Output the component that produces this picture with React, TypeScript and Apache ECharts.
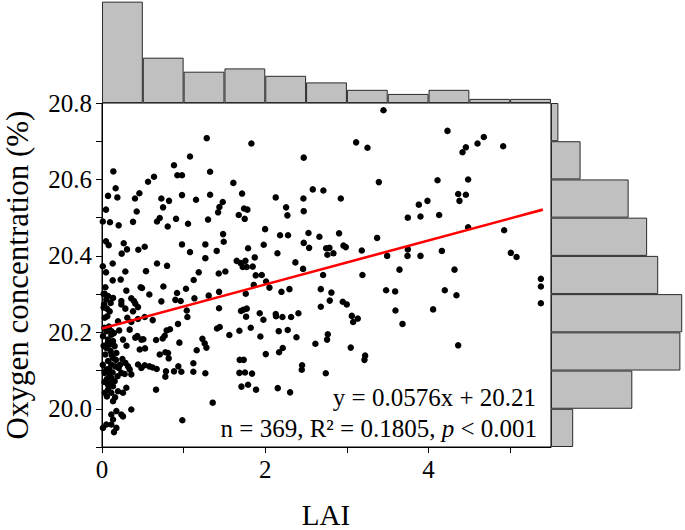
import React, { useEffect, useRef } from "react";
import * as echarts from "echarts";

const laiValues = [
  3.448, 4.232, 1.283, 1.830, 4.677, 4.600, 3.113, 3.252, 4.914, 4.457,
  4.416, 2.471, 1.078, 0.882, 0.139, 1.324, 0.923, 0.980, 0.637, 0.564,
  3.391, 1.609, 4.110, 4.485, 0.167, 2.582, 2.712, 0.458, 0.404, 0.074,
  0.188, 0.980, 1.324, 1.152, 1.716, 2.128, 2.467, 2.925, 0.727, 0.821,
  4.363, 4.457, 4.379, 3.987, 3.881, 1.479, 1.438, 1.422, 2.255, 2.271,
  2.471, 1.740, 1.781, 1.675, 1.748, 0.049, 0.425, 0.748, 4.130, 3.746,
  3.901, 0.204, 0.098, 0.010, 0.380, 0.674, 0.707, 0.907, 0.805, 1.054,
  1.299, 4.485, 4.926, 1.998, 1.483, 1.491, 2.181, 2.279, 2.529, 2.663,
  2.904, 3.370, 0.049, 0.082, 0.266, 0.306, 0.241, 0.445, 0.523, 0.980,
  1.078, 1.266, 1.405, 1.789, 1.981, 2.471, 2.537, 2.745, 2.786, 2.761,
  2.835, 2.958, 2.986, 3.182, 3.746, 3.742, 4.163, 5.008, 5.078, 3.493,
  3.901, 1.266, 1.871, 1.757, 2.149, 0.131, 0.674, 0.797, 1.650, 1.699,
  1.773, 1.846, 1.724, 2.369, 0.010, 0.049, 0.286, 0.539, 1.185, 1.123,
  1.430, 1.511, 1.883, 1.957, 1.859, 2.010, 2.463, 2.708, 3.644, 4.318,
  3.190, 0.490, 0.752, 0.919, 1.029, 0.580, 1.434, 1.307, 1.132, 1.761,
  2.051, 2.198, 2.296, 2.680, 2.810, 3.480, 3.591, 4.199, 4.342, 5.376,
  5.376, 5.376, 0.727, 0.899, 0.964, 1.038, 1.046, 1.434, 1.732, 1.703,
  1.773, 1.765, 1.932, 1.977, 2.128, 2.132, 2.210, 2.316, 2.406, 2.680,
  2.790, 2.949, 2.998, 3.060, 3.133, 3.076, 3.595, 4.056, 3.681, 0.523,
  0.621, 0.833, 0.792, 0.931, 1.409, 1.442, 0.507, 0.662, 0.743, 0.768,
  0.948, 1.160, 1.230, 1.258, 1.279, 1.560, 1.683, 1.822, 1.940, 2.165,
  2.275, 2.382, 2.614, 2.766, 2.757, 3.047, 2.006, 2.169, 2.214, 3.223,
  3.215, 4.363, 0.527, 0.707, 0.776, 0.809, 0.817, 0.523, 0.580, 0.621,
  0.670, 0.784, 0.776, 0.882, 0.935, 0.972, 1.119, 1.119, 1.266, 1.687,
  1.736, 1.683, 1.752, 1.838, 2.451, 2.447, 2.741, 0.662, 1.708, 1.789,
  1.887, 2.153, 2.304, 1.356, 0.984,
  0.131, 0.229, 0.041, 0.474, 0.298, 0.033, 0.074, 0.053, 0.135, 0.106,
  0.025, 0.237, 0.237, 0.359, 0.392, 0.408, 0.441, 0.380, 0.286, 0.094,
  0.065, 0.033, 0.310, 0.196, 0.359, 0.339, 0.114, 0.053, 0.012, 0.074,
  0.114, 0.135, 0.094, 0.053, 0.155, 0.106, 0.041, 0.176, 0.257, 0.408,
  0.433, 0.482, 0.462, 0.135, 0.074, 0.114, 0.163, 0.204, 0.286, 0.319,
  0.339, 0.359, 0.278, 0.237, 0.441, 0.482, 0.053, 0.033, 0.094, 0.114,
  0.155, 0.074, 0.135, 0.074, 0.033, 0.114, 0.196, 0.257, 0.298, 0.135,
  0.176, 0.114, 0.237, 0.257, 0.359, 0.135, 0.114, 0.053, 0.012, 0.176,
  0.147,
  0.020, 0.060, 0.085, 0.030, 0.145, 0.070, 0.020, 0.120, 0.170, 0.090,
  0.010, 0.130, 0.060, 0.100, 0.030, 0.190, 0.220, 0.060, 0.160, 0.250,
  0.300, 0.210, 0.440, 0.020,
];
const oxygenValues = [
  20.781, 20.727, 20.708, 20.694, 20.711, 20.694, 20.697, 20.683, 20.687, 20.684,
  20.671, 20.657, 20.660, 20.637, 20.621, 20.620, 20.611, 20.611, 20.607, 20.594,
  20.593, 20.591, 20.598, 20.600, 20.577, 20.574, 20.571, 20.564, 20.550, 20.557,
  20.553, 20.559, 20.560, 20.547, 20.563, 20.553, 20.550, 20.550, 20.550, 20.544,
  20.562, 20.560, 20.544, 20.544, 20.534, 20.541, 20.528, 20.514, 20.527, 20.506,
  20.517, 20.524, 20.521, 20.507, 20.497, 20.521, 20.516, 20.527, 20.507, 20.500,
  20.503, 20.480, 20.488, 20.490, 20.489, 20.490, 20.499, 20.497, 20.477, 20.484,
  20.495, 20.475, 20.467, 20.470, 20.457, 20.437, 20.454, 20.454, 20.460, 20.450,
  20.459, 20.447, 20.438, 20.428, 20.433, 20.417, 20.406, 20.416, 20.424, 20.430,
  20.410, 20.430, 20.413, 20.420, 20.429, 20.434, 20.421, 20.420, 20.421, 20.403,
  20.407, 20.427, 20.423, 20.414, 20.417, 20.400, 20.413, 20.408, 20.397, 20.400,
  20.400, 20.394, 20.396, 20.387, 20.407, 20.380, 20.380, 20.374, 20.387, 20.381,
  20.371, 20.372, 20.371, 20.383, 20.373, 20.357, 20.359, 20.360, 20.357, 20.337,
  20.354, 20.359, 20.349, 20.350, 20.324, 20.333, 20.366, 20.350, 20.364, 20.364,
  20.350, 20.316, 20.320, 20.303, 20.314, 20.299, 20.306, 20.296, 20.289, 20.301,
  20.317, 20.306, 20.313, 20.313, 20.304, 20.310, 20.307, 20.310, 20.297, 20.340,
  20.320, 20.276, 20.281, 20.285, 20.282, 20.257, 20.240, 20.263, 20.259, 20.256,
  20.262, 20.241, 20.250, 20.233, 20.248, 20.242, 20.240, 20.240, 20.250, 20.267,
  20.283, 20.280, 20.273, 20.243, 20.236, 20.227, 20.257, 20.260, 20.222, 20.240,
  20.232, 20.208, 20.205, 20.222, 20.210, 20.214, 20.182, 20.180, 20.184, 20.191,
  20.173, 20.153, 20.183, 20.171, 20.160, 20.193, 20.204, 20.212, 20.189, 20.203,
  20.206, 20.187, 20.170, 20.195, 20.181, 20.160, 20.143, 20.148, 20.159, 20.139,
  20.128, 20.166, 20.158, 20.142, 20.148, 20.146, 20.132, 20.114, 20.111, 20.108,
  20.104, 20.098, 20.084, 20.098, 20.111, 20.097, 20.119, 20.097, 20.093, 20.128,
  20.128, 20.094, 20.095, 20.092, 20.114, 20.102, 20.093, 20.050, 20.058, 20.063,
  20.050, 20.054, 20.043, 20.016, 19.970,
  20.336, 20.338, 20.318, 20.318, 20.309, 20.301, 20.295, 20.286, 20.290, 20.277,
  20.273, 20.282, 20.273, 20.289, 20.282, 20.275, 20.266, 20.255, 20.262, 20.255,
  20.242, 20.238, 20.238, 20.229, 20.227, 20.207, 20.203, 20.203, 20.190, 20.181,
  20.194, 20.177, 20.168, 20.159, 20.164, 20.151, 20.142, 20.146, 20.181, 20.186,
  20.190, 20.181, 20.155, 20.133, 20.125, 20.116, 20.111, 20.107, 20.120, 20.111,
  20.103, 20.090, 20.091, 20.094, 20.116, 20.107, 20.103, 20.094, 20.090, 20.081,
  20.072, 20.063, 20.059, 20.050, 20.042, 20.042, 20.046, 20.042, 20.055, 20.020,
  19.994, 19.985, 19.985, 19.980, 19.998, 19.972, 19.959, 19.959, 19.950, 19.950,
  19.939,
  20.265, 20.262, 20.215, 20.212, 20.198, 20.172, 20.165, 20.140, 20.128, 20.105,
  20.115, 20.095, 20.078, 20.065, 20.070, 20.085, 20.115, 20.032, 20.030, 20.130,
  20.165, 20.205, 20.235, 20.300,
];

// Marginal histograms (counts per bin)
const topBinLabels = [
  "0–0.5", "0.5–1.0", "1.0–1.5", "1.5–2.0", "2.0–2.5", "2.5–3.0",
  "3.0–3.5", "3.5–4.0", "4.0–4.5", "4.5–5.0", "5.0–5.5",
];
const topBinCounts = [123, 55, 38, 42, 33, 25, 16, 11, 16, 5, 5];
const rightBinLabels = [
  "19.9–20.0", "20.0–20.1", "20.1–20.2", "20.2–20.3", "20.3–20.4",
  "20.4–20.5", "20.5–20.6", "20.6–20.7", "20.7–20.8",
];
const rightBinCounts = [12, 44, 70, 71, 58, 52, 42, 16, 4];

// Axis ticks and labels
const xTicks = [0, 1, 2, 3, 4, 5];
const xTickLabels = ["0", "2", "4"];
const yTicks = [19.9, 20.0, 20.1, 20.2, 20.3, 20.4, 20.5, 20.6, 20.7, 20.8];
const yTickLabels = ["20.0", "20.2", "20.4", "20.6", "20.8"];

// Linear fit
const fitSlope = 0.0576;
const fitIntercept = 20.21;
const fitRange = [0, 5.4];

const FONT = "Liberation Serif";

export default function App() {
  const ref = useRef<HTMLDivElement>(null);

  useEffect(() => {
    document.body.style.margin = "0";
    if (!ref.current) return;
    const chart = echarts.init(ref.current, null, { renderer: "svg" });

    const points = laiValues.map((x, i) => [x, oxygenValues[i]]);
    const fitLine = fitRange.map((x) => [x, fitIntercept + fitSlope * x]);

    const barStyle = {
      color: "#c0c0c0",
      borderColor: "#2a2a2a",
      borderWidth: 1,
    };

    chart.setOption({
      animation: false,
      backgroundColor: "#ffffff",
      textStyle: { fontFamily: FONT },
      grid: [
        {
          left: 102, top: 103, width: 449, height: 344,
          show: true, borderColor: "#000", borderWidth: 1,
          backgroundColor: "transparent",
        },
        { left: 102, top: 0, width: 449, height: 103 },
        { left: 551, top: 103, width: 134, height: 344 },
      ],
      xAxis: [
        {
          gridIndex: 0,
          type: "value",
          min: 0,
          max: 5.5,
          interval: 1,
          axisLine: { show: true, onZero: false, lineStyle: { color: "#000", width: 1 } },
          axisTick: {
            show: true, inside: false, length: 6,
            customValues: xTicks,
            lineStyle: { color: "#000", width: 1 },
          },
          axisLabel: {
            formatter: (v: number) => {
              const s = String(Math.round(v * 10) / 10);
              return xTickLabels.includes(s) ? s : "";
            },
            fontFamily: FONT, fontSize: 25, color: "#000", margin: 10,
            showMaxLabel: false,
          },
          splitLine: { show: false },
        },
        { gridIndex: 1, type: "category", data: topBinLabels, show: false },
        { gridIndex: 2, type: "value", min: 0, max: 72.5, show: false },
      ],
      yAxis: [
        {
          gridIndex: 0,
          type: "value",
          min: 19.9,
          max: 20.8,
          interval: 0.1,
          axisLine: { show: true, onZero: false, lineStyle: { color: "#000", width: 1 } },
          axisTick: {
            show: true, inside: false, length: 6,
            customValues: yTicks,
            lineStyle: { color: "#000", width: 1 },
          },
          axisLabel: {
            formatter: (v: number) => {
              const s = (Math.round(v * 10) / 10).toFixed(1);
              return yTickLabels.includes(s) ? s : "";
            },
            fontFamily: FONT, fontSize: 25, color: "#000", margin: 10,
          },
          splitLine: { show: false },
        },
        { gridIndex: 1, type: "value", min: 0, max: 125, show: false },
        { gridIndex: 2, type: "category", data: rightBinLabels, show: false },
      ],
      series: [
        {
          type: "bar",
          xAxisIndex: 1,
          yAxisIndex: 1,
          data: topBinCounts,
          barCategoryGap: "0%",
          itemStyle: barStyle,
          silent: true,
        },
        {
          type: "bar",
          xAxisIndex: 2,
          yAxisIndex: 2,
          data: rightBinCounts,
          barCategoryGap: "0%",
          itemStyle: barStyle,
          silent: true,
        },
        {
          type: "scatter",
          xAxisIndex: 0,
          yAxisIndex: 0,
          data: points,
          symbol: "circle",
          symbolSize: 6.5,
          itemStyle: { color: "#000", opacity: 1 },
          z: 3,
        },
        {
          type: "line",
          xAxisIndex: 0,
          yAxisIndex: 0,
          data: fitLine,
          symbol: "none",
          lineStyle: { color: "#ff0000", width: 2.6 },
          z: 4,
        },
      ],
      graphic: [
        {
          type: "text",
          x: 17,
          y: 275,
          rotation: Math.PI / 2,
          style: {
            text: "Oxygen concentration (%)",
            fontFamily: FONT,
            fontSize: 31,
            fill: "#000",
            align: "center",
            verticalAlign: "middle",
          },
        },
        {
          type: "text",
          x: 326,
          y: 515,
          style: {
            text: "LAI",
            fontFamily: FONT,
            fontSize: 29,
            fill: "#000",
            align: "center",
            verticalAlign: "middle",
          },
        },
        {
          type: "text",
          x: 536,
          y: 397,
          z: 10,
          style: {
            text: "y = 0.0576x + 20.21",
            fontFamily: FONT,
            fontSize: 25,
            fill: "#000",
            align: "right",
            verticalAlign: "middle",
          },
        },
        {
          type: "text",
          x: 537,
          y: 428,
          z: 10,
          style: {
            text: "n = 369, R² = 0.1805, {it|p} < 0.001",
            fontFamily: FONT,
            fontSize: 25,
            fill: "#000",
            align: "right",
            verticalAlign: "middle",
            rich: {
              it: { fontFamily: FONT, fontSize: 25, fontStyle: "italic", fill: "#000" },
            },
          },
        },
      ],
    });

    return () => chart.dispose();
  }, []);

  return (
    <div
      ref={ref}
      style={{ position: "fixed", left: 0, top: 0, width: 685, height: 530 }}
    />
  );
}
